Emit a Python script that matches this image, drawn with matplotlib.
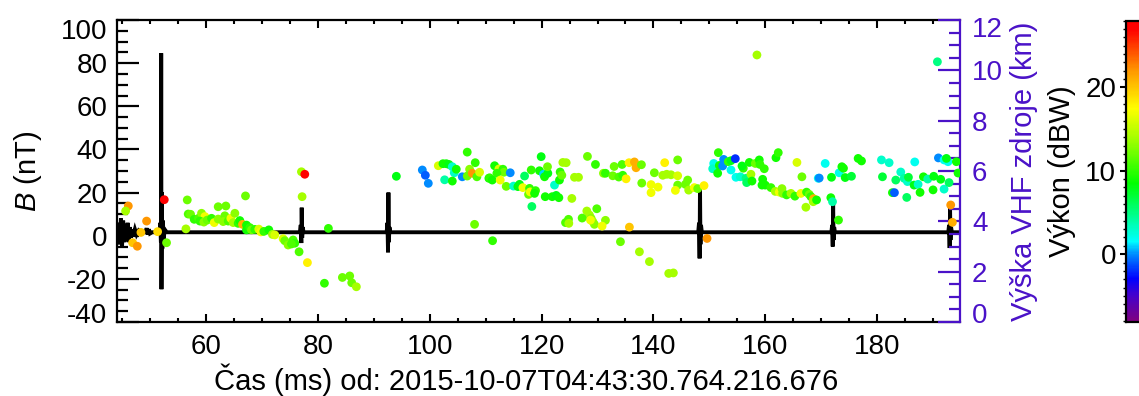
import matplotlib
matplotlib.use('Agg')
import matplotlib.pyplot as plt
import matplotlib.transforms as mtransforms
from matplotlib.colors import LinearSegmentedColormap, Normalize
from matplotlib.ticker import MultipleLocator

plt.rcParams['font.family'] = ['Liberation Sans', 'DejaVu Sans']
plt.rcParams['mathtext.fontset'] = 'custom'
plt.rcParams['mathtext.rm'] = 'Liberation Sans'
plt.rcParams['mathtext.it'] = 'Liberation Sans:italic'
plt.rcParams['axes.unicode_minus'] = False

# ---------------- data ----------------
# magnetic field trace B (nT) vs time (ms)
b_time = [44.2, 44.4, 44.6, 44.8, 45.0, 45.2, 45.4, 45.6, 45.8, 46.0, 46.2, 46.4, 46.6, 46.8,
          47.0, 47.3, 47.6, 48.0, 48.5, 49.2, 49.4, 49.6, 49.8, 50.0, 50.4, 51.0, 51.7,
          51.85, 51.95, 52.0, 52.05, 52.12, 52.2, 52.3, 52.45, 52.6, 53.0,
          76.8, 76.95, 77.05, 77.12, 77.2, 77.3, 77.45,
          92.3, 92.45, 92.55, 92.62, 92.7, 92.8, 92.95,
          148.0, 148.15, 148.25, 148.32, 148.4, 148.5, 148.65,
          171.8, 171.95, 172.05, 172.12, 172.2, 172.3, 172.45,
          192.7, 192.85, 192.95, 193.02, 193.1, 193.2, 193.35, 194.8]
b_value = [0, 6, -4, 8, -5, 7, -3, 5, -2, 6, -3, 4, -1, 3,
           0, 3, 0.5, 2.5, 1.6, 1.6, 3.5, 0.5, 3, 1, 1.6, 1.6, 1.6,
           6, -3, 84.6, -24.8, 20, -6, 7, -2, 3, 1.6,
           1.6, 5, -3.4, 13, -1, 4, 1.6,
           1.6, 6, -7.7, 20, -3, 4, 1.6,
           1.6, 6, -10.5, 23.5, -4, 5, 1.6,
           1.6, 5, -5, 15.3, -2, 4, 1.6,
           1.6, 5, -5.7, 13.4, -2, 4, 1.6, 1.6]

# VHF sources: time (ms), height (km), power (dBW)
src_time = [
    46.12, 45.64, 49.39, 48.38, 46.89, 47.73, 51.36, 52.55, 52.96, 56.66, 56.42, 56.83, 57.25,
    57.90, 58.68, 59.21, 59.81, 58.92, 59.63, 60.23, 61.00, 61.48, 62.19, 63.56, 62.19, 63.38,
    63.08, 63.98, 64.45, 65.17, 64.87, 65.76, 66.06, 66.54, 67.07, 67.25, 67.25, 67.85, 68.14,
    68.74, 69.45, 69.81, 70.34, 71.24, 71.89, 72.31, 73.79, 74.09, 74.69, 75.58, 75.88, 75.28,
    76.65,
    77.07, 77.67, 77.19, 78.14, 81.89, 81.18, 84.39, 85.70, 86.06, 86.89, 94.04, 98.68, 99.22,
    99.75, 101.54, 102.37, 102.97, 103.44, 104.04, 104.39, 104.75, 102.67, 104.04, 105.82,
    106.71, 108.14, 107.13, 106.71, 107.61, 108.44, 108.92, 110.58, 108.02,
    111.60, 112.37, 113.09, 113.27, 112.01, 110.71, 111.18, 112.61, 114.40, 113.68, 114.99,
    115.76, 116.06, 116.66, 116.96, 118.15, 119.93, 119.63, 120.35, 120.53, 121.12, 121.06,
    117.85, 117.67, 117.97, 118.92, 118.74, 118.26, 120.65, 121.90, 122.61, 123.09, 122.31,
    123.20, 123.32, 123.62, 123.80, 124.40, 125.41, 125.88, 126.60, 128.20, 129.63, 131.06,
    131.42, 132.73, 132.97, 133.80, 134.51, 134.39, 135.11, 135.64, 136.60, 136.89, 137.85,
    137.91, 140.16, 139.57, 139.57, 140.82, 142.01, 141.66, 142.37, 143.14, 144.33, 144.33,
    144.33, 143.92, 128.09, 128.56, 128.86, 129.16, 129.45, 128.74, 129.87, 131.42, 130.82,
    127.25, 124.28, 124.81, 124.87, 135.70, 111.24, 134.10, 137.49, 139.28, 142.73, 143.56,
    146.12, 145.71, 146.30, 147.31, 147.91, 149.04, 151.60, 150.77, 150.59, 151.48, 151.78,
    152.55, 152.37, 153.38, 153.86, 154.63, 153.86, 154.75, 155.53, 156.54, 156.66, 157.43,
    157.61, 156.06, 155.83, 157.14, 158.21, 158.92, 159.04, 159.81, 159.52, 159.40, 159.99,
    161.90, 162.31, 161.00, 161.78, 162.49, 162.97, 163.09, 163.80, 164.58, 165.29, 165.65,
    166.54, 166.36, 167.25, 167.37, 167.85, 168.15, 168.62, 168.56, 169.16, 169.46, 149.58,
    158.50, 190.76, 170.70, 169.63, 171.83, 171.71, 172.01, 173.08, 173.20, 173.68, 173.97,
    174.27, 175.40, 176.59, 177.19, 180.76, 182.13, 180.94, 182.72, 183.08, 183.32, 184.21,
    184.81, 185.40, 185.58, 185.28, 186.71, 186.59, 187.31, 187.66, 188.26, 189.03, 190.10,
    189.98, 191.35, 191.95, 192.84, 190.94, 191.95, 192.66, 192.37, 194.15, 194.45, 193.14,
    193.44]
src_height = [
    4.61, 4.41, 4.01, 3.56, 3.15, 3.01, 3.59, 4.86, 3.15, 4.85, 3.70, 4.29, 4.28,
    4.08, 4.12, 4.32, 4.19, 4.01, 3.97, 4.05, 4.12, 3.95, 4.58, 4.61, 4.09, 4.22,
    3.99, 4.01, 4.12, 4.32, 3.95, 3.92, 4.03, 3.88, 5.01, 3.85, 3.66, 3.75, 3.66,
    3.68, 3.69, 3.58, 3.60, 3.66, 3.48, 3.46, 3.31, 3.23, 3.06, 3.26, 3.13, 3.10,
    2.79,
    5.97, 5.87, 4.98, 2.36, 3.72, 1.54, 1.77, 1.83, 1.56, 1.40, 5.79, 6.04, 5.83,
    5.51, 6.21, 6.29, 6.29, 6.26, 6.17, 5.93, 6.07, 5.65, 5.60, 5.77,
    6.75, 6.33, 6.07, 5.80, 5.91, 5.77, 5.95, 5.71, 3.88,
    6.21, 6.08, 6.07, 5.95, 5.91, 5.73, 5.64, 5.64, 5.93, 5.39, 5.40,
    5.38, 5.47, 5.34, 5.80, 6.04, 6.57, 6.01, 5.87, 5.77, 5.91, 6.17,
    5.31, 5.07, 5.17, 5.22, 5.11, 4.59, 4.98, 4.98, 5.03, 4.94, 5.44,
    5.64, 5.96, 5.83, 6.34, 6.33, 4.91, 5.75, 5.75, 6.58, 6.26, 5.91,
    5.91, 5.81, 6.18, 5.76, 5.83, 6.26, 5.69, 6.33, 6.36, 6.13, 6.25,
    5.52, 5.93, 5.46, 5.14, 5.36, 6.33, 5.83, 5.87, 5.85, 6.44, 5.81,
    5.44, 5.23, 4.41, 4.25, 4.12, 3.99, 3.88, 4.05, 4.50, 4.04, 3.81,
    4.13, 3.95, 4.08, 3.92, 3.77, 3.23, 3.19, 2.79, 2.40, 1.93, 1.95,
    5.64, 5.47, 5.24, 5.34, 5.30, 5.42, 6.73, 6.30, 6.09, 5.91, 6.22,
    6.46, 6.20, 6.37, 6.41, 6.49, 6.04, 5.75, 5.77, 5.71, 5.54, 5.87,
    5.60, 6.11, 6.20, 6.34, 6.30, 6.44, 6.26, 6.09, 5.67, 5.44, 5.44,
    6.53, 6.73, 5.34, 5.19, 5.16, 5.30, 5.11, 5.05, 5.11, 5.00, 6.34,
    5.77, 5.11, 4.56, 5.16, 5.07, 4.98, 4.90, 4.78, 4.85, 5.71, 3.32,
    10.61, 10.34, 6.30, 5.72, 5.75, 4.94, 4.78, 4.05, 5.93, 6.17, 6.11,
    5.74, 5.79, 6.50, 6.40, 6.44, 6.33, 5.77, 5.14, 5.14, 5.64, 5.96,
    5.71, 5.58, 5.75, 4.95, 6.36, 5.44, 5.47, 5.15, 5.77, 5.68, 5.79,
    5.25, 5.67, 5.28, 5.54, 6.52, 6.44, 6.37, 6.50, 6.37, 5.92, 4.65,
    3.96]
src_power = [
    22, 14, 22, 20, 20, 22, 19, 27, 12, 12, 14, 11, 12,
    10, 11, 13, 17, 10, 13, 12, 10, 17, 12, 12, 13, 12,
    13, 11, 17, 13, 14, 10, 9, 21, 12, 9, 9, 10, 12,
    10, 16, 17, 10, 9, 14, 16, 16, 12, 13, 11, 10, 11,
    11,
    14, 27, 14, 18, 10, 10, 12, 12, 12, 14, 8, 0, -1,
    0, 16, 9, 9, 8, 3, 3, 9, 4, 9, 0,
    10, 10, 13, 12, 22, 11, 16, 9, 12,
    9, 16, 10, 12, 10, 10, 9, 17, 0, 12, 3,
    8, 8, 17, 6, 10, 8, 9, 1, 9, 8, 12,
    10, 12, 17, 10, 9, 6, 9, 9, 8, 9, 3,
    9, 10, 12, 14, 14, 14, 14, 14, 12, 10, 13,
    10, 12, 12, 11, 10, 11, 18, 18, 21, 21, 12,
    12, 12, 17, 17, 17, 18, 14, 14, 14, 12, 16,
    12, 17, 14, 14, 13, 14, 13, 17, 11, 13, 17,
    11, 11, 11, 14, 20, 10, 12, 14, 14, 14, 14,
    12, 12, 14, 17, 12, 18, 10, 2, 3, 9, 9,
    0, 0, 10, 8, -2, 2, 2, 3, 5, 6, 14,
    9, 10, 8, 9, 12, 9, 10, 10, 9, 9, 9,
    9, 10, 10, 14, 17, 13, 13, 10, 14, 10, 16,
    12, 17, 14, 10, 12, 10, 21, 14, 9, 2, 22,
    14, 5, 2, 0, 8, 9, 4, 10, 2, 9, 9,
    8, 7, 9, 9, 3, 3, 7, 9, -1, 6, 3,
    4, 3, 7, 6, 2, 8, 3, 9, 9, 4, 8,
    9, 8, 3, 6, 0, 2, 2, 8, 9, 9, 22,
    21]

x_ticks = [60, 80, 100, 120, 140, 160, 180]
b_ticks = [-40, -20, 0, 20, 40, 60, 80, 100]
h_ticks = [0, 2, 4, 6, 8, 10, 12]
p_ticks = [0, 10, 20]

# ---------------- style ----------------
W, H = 1139, 396
INDIGO = '#4a12c8'
cmap_vals = [-8.1, -5, -3, 0, 1.5, 5, 8.5, 13.5, 17.5, 22, 27, 28.0]
cmap_cols = [(0.5, 0, 0.5), (0.27, 0, 0.8), (0, 0, 1), (0, 0.55, 1), (0, 1, 1), (0, 1, 0.5),
             (0, 1, 0), (0.6, 1, 0), (1, 1, 0), (1, 0.6, 0), (1, 0, 0), (1, 0, 0)]
vmin, vmax = cmap_vals[0], cmap_vals[-1]
cmap = LinearSegmentedColormap.from_list(
    'idl_rainbow', [((v - vmin) / (vmax - vmin), c) for v, c in zip(cmap_vals, cmap_cols)])

fig = plt.figure(figsize=(W / 100, H / 100), dpi=100)
ax = fig.add_axes([117 / W, 1 - 322 / H, (960 - 117) / W, 302 / H])
ax.set_xlim(44.1, 194.8)
ax.set_ylim(-40, 100)
ax.plot(b_time, b_value, color='black', lw=2.8, solid_joinstyle='miter', zorder=2)

ax2 = ax.twinx()
ax2.set_ylim(0, 12)
sc = ax2.scatter(src_time, src_height, c=src_power, cmap=cmap,
                 norm=Normalize(vmin=vmin, vmax=vmax), s=40, linewidths=0, zorder=3)

# spines
for name in ['left', 'top', 'bottom']:
    ax.spines[name].set_linewidth(1.6)
    ax2.spines[name].set_visible(False)
ax.spines['right'].set_visible(False)
ax2.spines['right'].set_color(INDIGO)
ax2.spines['right'].set_linewidth(1.6)

# x axis
ax.set_xticks(x_ticks)
ax.xaxis.set_minor_locator(MultipleLocator(5))
ax.tick_params(axis='x', which='major', direction='in', length=6, width=1.5, top=True,
               labelsize=20, pad=8.4)
ax.tick_params(axis='x', which='minor', direction='in', length=3, width=1.5, top=True)
ax.set_xlabel('Čas (ms) od: 2015-10-07T04:43:30.764.216.676', fontsize=21)
ax.xaxis.set_label_coords(0.485, -0.136)

# left y axis
ax.set_yticks(b_ticks)
ax.yaxis.set_minor_locator(MultipleLocator(5))
ax.tick_params(axis='y', which='major', direction='in', length=16, width=1.6, right=False,
               labelsize=20, pad=7)
ax.tick_params(axis='y', which='minor', direction='in', length=8, width=1.6, right=False)
ax.set_ylabel(r'$B$ (nT)', fontsize=21)
ax.yaxis.set_label_coords(-0.0866, 0.5)

# right y axis
ax2.set_yticks(h_ticks)
ax2.yaxis.set_minor_locator(MultipleLocator(0.5))
ax2.tick_params(axis='y', which='major', direction='in', length=16, width=1.6,
                colors=INDIGO, labelsize=20, pad=8.6)
ax2.tick_params(axis='y', which='minor', direction='in', length=8, width=1.6, colors=INDIGO)
ax2.set_ylabel('Výška VHF zdroje (km)', fontsize=21, color=INDIGO)
ax2.yaxis.set_label_coords(1.059, 0.5)

# shift end labels inward like the original
def shift(lab, dy_px):
    lab.set_transform(lab.get_transform() +
                      mtransforms.ScaledTranslation(0, dy_px / 100, fig.dpi_scale_trans))

lt = ax.yaxis.get_major_ticks()
shift(lt[0].label1, 9)
shift(lt[-1].label1, -9)
rt = ax2.yaxis.get_major_ticks()
shift(rt[0].label2, 9)
shift(rt[-1].label2, -7)

# colorbar
cax = fig.add_axes([1126 / W, 1 - 321.7 / H, 25 / W, 301 / H])
cb = fig.colorbar(sc, cax=cax)
cb.outline.set_linewidth(1.6)
cax.yaxis.set_ticks_position('left')
cax.yaxis.set_label_position('left')
cb.set_ticks(p_ticks)
cax.yaxis.set_minor_locator(MultipleLocator(1))
cax.tick_params(axis='y', which='major', direction='out', length=4, width=1.5,
                labelsize=20, pad=3)
cax.tick_params(axis='y', which='minor', direction='out', length=2, width=1)
cb.set_label('Výkon (dBW)', fontsize=21)
cax.yaxis.set_label_coords(-2.0, 0.5)

fig.savefig('out.png', dpi=100)
